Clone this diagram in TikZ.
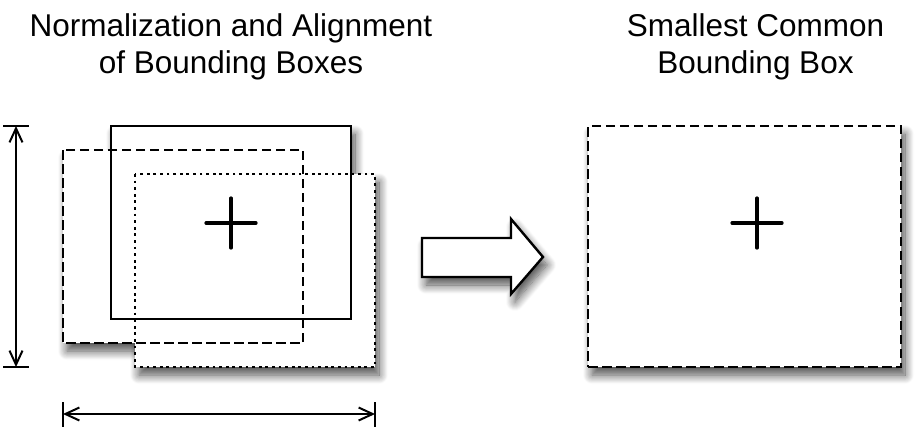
\documentclass[tikz,border=0pt]{standalone}
\usepackage{fontspec}
\setmainfont{Liberation Sans}
\usetikzlibrary{arrows.meta,shadows.blur}
\begin{document}
\begin{tikzpicture}[x=1pt,y=-1pt,
  box/.style={minimum width=240pt, minimum height=193pt, inner sep=0pt, outer sep=0pt},
  shad/.style={blur shadow={shadow xshift=4pt, shadow yshift=-8pt, shadow blur radius=9pt, shadow blur steps=12, shadow opacity=70}},
  outline/.style={draw=black, line width=2.4pt},
  dashedline/.style={dash pattern=on 9.5pt off 4.5pt},
  dottedline/.style={dash pattern=on 2.8pt off 3.8pt},
  crossline/.style={line width=3.2pt, line cap=round},
  barb/.tip={Straight Barb[length=14pt,width=13pt,line width=2pt]},
  dimline/.style={line width=2.2pt, barb-barb},
  tickline/.style={line width=2.2pt},
  title/.style={font=\fontsize{31.5}{37}\selectfont, anchor=base, inner sep=0pt}
]
\useasboundingbox (0,0) rectangle (917,431);

% titles
\node[title] (t1a) at (231,36) {Normalization and Alignment};
\node[title] (t1b) at (231,73) {of Bounding Boxes};
\node[title] (t2a) at (755.5,36) {Smallest Common};
\node[title] (t2b) at (755.5,73) {Bounding Box};

% left group: shadows first
\node[box, shad] (solid) at (231,222.5) {};
\node[box, shad] (dash) at (183,246.5) {};
\node[box, shad] (dot) at (255,270.5) {};
% white fills
\fill[white] (solid.north west) rectangle (solid.south east);
\fill[white] (dash.north west) rectangle (dash.south east);
\fill[white] (dot.north west) rectangle (dot.south east);
% outlines
\draw[outline, line width=2.2pt] (solid.north west) rectangle (solid.south east);
\draw[outline, dashedline] (dash.north west) rectangle (dash.south east);
\draw[outline, dottedline] (dot.north west) rectangle (dot.south east);

% cross left
\coordinate (c1) at (231,223);
\draw[crossline] ([xshift=-25pt]c1) -- ([xshift=25pt]c1);
\draw[crossline] ([yshift=-25pt]c1) -- ([yshift=25pt]c1);

% dimension arrows
\coordinate (vt) at (16,126);
\coordinate (vb) at (16,367);
\draw[dimline] (vt) -- (vb);
\draw[tickline] ([xshift=-13pt]vt) -- ([xshift=13pt]vt);
\draw[tickline] ([xshift=-13pt]vb) -- ([xshift=13pt]vb);
\coordinate (hl) at (63,414);
\coordinate (hr) at (375,414);
\draw[dimline] (hl) -- (hr);
\draw[tickline] ([yshift=-12.5pt]hl) -- ([yshift=12.5pt]hl);
\draw[tickline] ([yshift=-12.5pt]hr) -- ([yshift=12.5pt]hr);

% block arrow
\draw[outline, fill=white, shad, line join=miter]
  (422,238) -- (511,238) -- (511,219) -- (543,257) -- (511,294) -- (511,277) -- (422,277) -- cycle;

% right box
\node[outline, dashedline, fill=white, shad, minimum width=313pt, minimum height=241pt, inner sep=0pt, outer sep=0pt] (rbox) at (744.5,246.5) {};
\coordinate (c2) at (757,223);
\draw[crossline] ([xshift=-25pt]c2) -- ([xshift=25pt]c2);
\draw[crossline] ([yshift=-25pt]c2) -- ([yshift=25pt]c2);
\end{tikzpicture}
\end{document}
